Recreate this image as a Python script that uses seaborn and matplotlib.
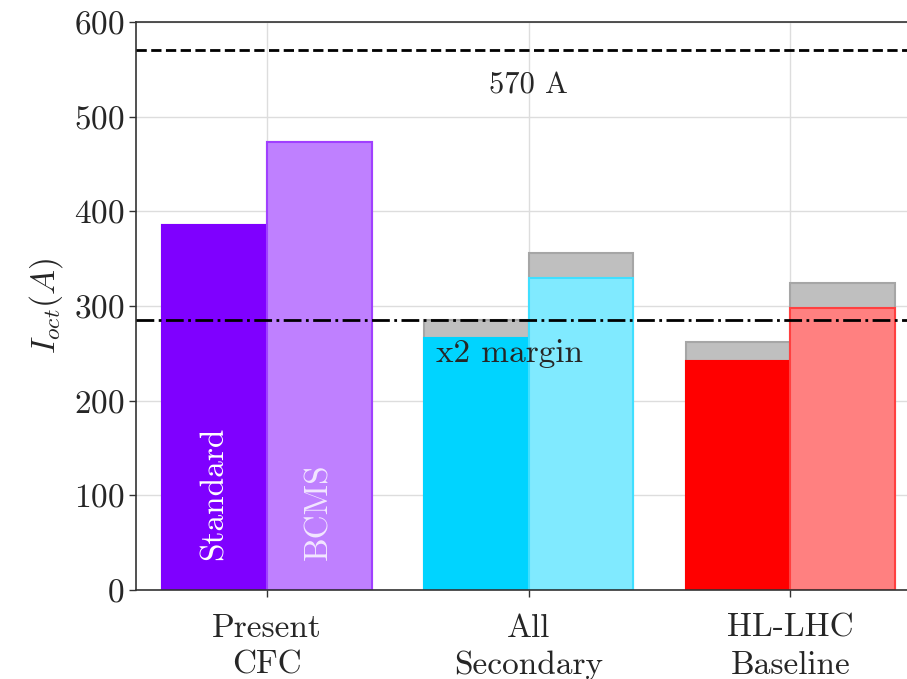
import pandas as pd
import matplotlib
matplotlib.use('Agg')
import matplotlib.pyplot as plt
import seaborn as sns

# dane
groups = ['Present\nCFC', 'All\nSecondary', 'HL-LHC\nBaseline']
optics = ['Standard', 'BCMS']
base_standard = [386, 266, 242]
base_bcms = [473, 330, 298]
total_standard = [386, 285, 262]
total_bcms = [473, 356, 324]
limit_570 = 570
margin_x2 = 285

dark_colors = ['#7F00FF', '#00D4FF', '#FF0000']
light_colors = ['#BF80FF', '#80EAFF', '#FF8080']
light_edges = ['#A040FF', '#40DFFF', '#FF4040']

df_base = pd.DataFrame({
    'group': groups * 2,
    'optics': [optics[0]] * 3 + [optics[1]] * 3,
    'value': base_standard + base_bcms,
})
df_total = pd.DataFrame({
    'group': groups * 2,
    'optics': [optics[0]] * 3 + [optics[1]] * 3,
    'value': total_standard + total_bcms,
})

sns.set_style('whitegrid')
plt.rcParams['font.family'] = 'serif'
plt.rcParams['font.serif'] = ['cmr10', 'DejaVu Serif']
plt.rcParams['mathtext.fontset'] = 'cm'
plt.rcParams['axes.formatter.use_mathtext'] = True

fig = plt.figure(figsize=(9.07, 6.79), dpi=100)
ax = fig.add_axes([0.150, 0.131, 0.8655, 0.8365])

# szare nadwyzki (totals), potem bazowe slupki na wierzchu
sns.barplot(data=df_total, x='group', y='value', hue='optics', hue_order=optics,
            width=0.8, palette=['#BFBFBF', '#BFBFBF'], legend=False, ax=ax,
            edgecolor='#A6A6A6', linewidth=1.5, saturation=1)
sns.barplot(data=df_base, x='group', y='value', hue='optics', hue_order=optics,
            width=0.8, palette=['#7F00FF', '#BF80FF'], legend=False, ax=ax,
            linewidth=1.5, saturation=1)

cont_std = ax.containers[2]
cont_bcms = ax.containers[3]
for i, p in enumerate(cont_std):
    p.set_facecolor(dark_colors[i])
    p.set_edgecolor(dark_colors[i])
for i, p in enumerate(cont_bcms):
    p.set_facecolor(light_colors[i])
    p.set_edgecolor(light_edges[i])

ax.axhline(limit_570, color='black', linestyle='--', linewidth=2, zorder=5)
ax.axhline(margin_x2, color='black', linestyle='-.', linewidth=2, zorder=5)
ax.text(1.0, 533, '570 A', ha='center', va='center', fontsize=22)
ax.text(0.645, 250, 'x2 margin', ha='left', va='center', fontsize=24)

ax.text(-0.2, 32, 'Standard', rotation=90, color='white', ha='center',
        va='bottom', fontsize=24)
ax.text(0.2, 32, 'BCMS', rotation=90, color='#F2E6FF', ha='center',
        va='bottom', fontsize=24)

ax.set_xlim(-0.5, 2.5)
ax.set_ylim(0, 600)
ax.set_xlabel('')
ax.set_ylabel(r'$I_{oct}(A)$', fontsize=24, labelpad=6)
ax.set_yticks([0, 100, 200, 300, 400, 500, 600])
ax.tick_params(axis='both', labelsize=24, length=5, width=1, color='#333333',
               direction='out', left=True, bottom=True)
ax.tick_params(axis='x', pad=12)
for lab in ax.get_xticklabels():
    lab.set_linespacing(1.35)
ax.grid(True, color='#DDDDDD', linewidth=1)
ax.set_axisbelow(True)
for s in ax.spines.values():
    s.set_color('#333333')
    s.set_linewidth(1.2)

fig.savefig('out.png', dpi=100)
